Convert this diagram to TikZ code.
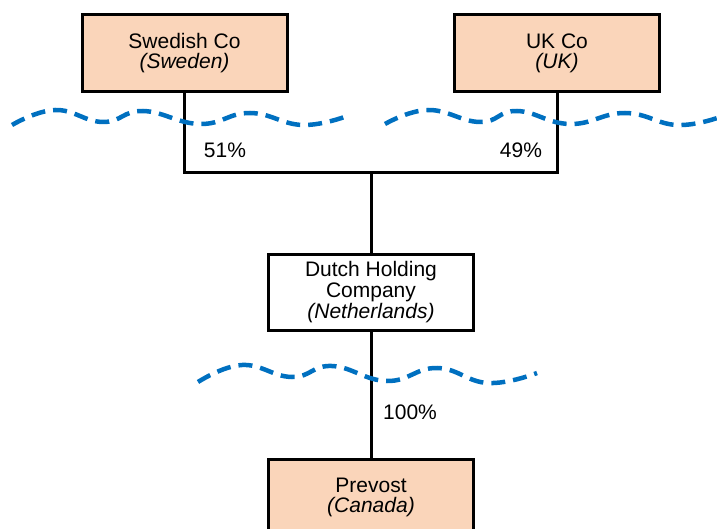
\documentclass[tikz,border=0pt]{standalone}
\usepackage{fontspec}
\setmainfont{Liberation Sans}
\definecolor{copeach}{RGB}{250,213,186}
\definecolor{seablue}{RGB}{0,112,192}
\usetikzlibrary{positioning}

\begin{document}
\begin{tikzpicture}[x=1pt, y=-1pt,
  cobox/.style={draw=black, line width=3pt, fill=copeach, minimum width=205pt,
    minimum height=77pt, align=center, inner sep=2pt,
    font=\fontsize{21}{20}\selectfont},
  holdbox/.style={cobox, fill=white, minimum height=75pt,
    font=\fontsize{21}{21}\selectfont},
  link/.style={draw=black, line width=3pt},
  pct/.style={font=\fontsize{21}{24}\selectfont, inner sep=0pt},
  wave/.style={seablue, line width=4.5pt, dash pattern=on 14pt off 8pt,
    smooth, tension=0.75}]

\useasboundingbox (0,0) rectangle (717,529);

% Companies
\node[cobox] (swed) at (184.5,53.5) {Swedish Co\\\textit{(Sweden)}};
\node[cobox] (ukco) at (557,53.5) {UK Co\\\textit{(UK)}};
\node[holdbox] (dutch) at (371,292.5) {Dutch Holding\\Company\\\textit{(Netherlands)}};
\node[cobox] (prev) at (371,497.5) {Prevost\\\textit{(Canada)}};

% Ownership lines
\coordinate (split) at (371,173);
\draw[link] (swed.south) |- (split) -| (ukco.south);
\draw[link] (split) -- (dutch.north);
\draw[link] (dutch.south) -- (prev.north);

% Percentages
\node[pct] (p51) at (225,150) {51\%};
\node[pct] (p49) at (521,150) {49\%};
\node[pct] (p100) at (410,412) {100\%};

% Borders
\draw[wave] plot coordinates {(12,125) (55,110) (103,122) (143,111) (200,124)
  (250,113) (303,125) (350,115)};
\draw[wave] plot coordinates {(385,124) (428,110) (480,122) (517,111) (570,124)
  (625,113) (677,125) (720,117)};
\draw[wave] plot coordinates {(198,382) (242,365) (292,377) (332,366) (387,381)
  (437,368) (488,383) (537,373)};

\end{tikzpicture}
\end{document}
